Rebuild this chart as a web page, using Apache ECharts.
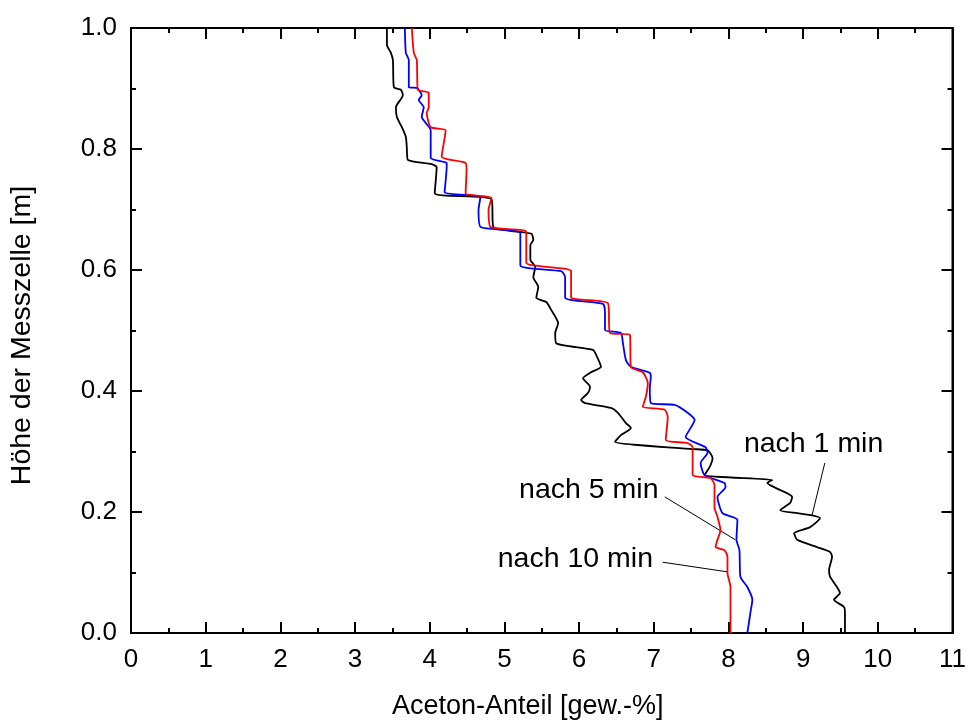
<!DOCTYPE html>
<html>
<head>
<meta charset="utf-8">
<script src="https://cdn.jsdelivr.net/npm/echarts@6/dist/echarts.min.js"></script>
<style>html,body{margin:0;padding:0;background:#fff}#c{width:969px;height:727px}</style>
</head>
<body>
<div id="c"></div>
<script>
// x: Aceton-Anteil [gew.-%], y: Höhe der Messzelle [m]
const black1min = [
[3.427,1.000],[3.427,0.972],[3.480,0.959],[3.507,0.947],[3.520,0.902],[3.613,0.898],[3.640,0.889],[3.547,0.869],
[3.560,0.853],[3.627,0.836],[3.680,0.820],[3.693,0.803],[3.707,0.782],[4.027,0.775],[4.093,0.770],[4.067,0.727],
[4.827,0.717],[4.853,0.671],[5.360,0.660],[5.387,0.650],[5.347,0.641],[5.347,0.617],[5.413,0.605],[5.387,0.588],
[5.453,0.572],[5.427,0.554],[5.560,0.547],[5.627,0.534],[5.720,0.512],[5.680,0.496],[5.693,0.479],[6.187,0.468],
[6.227,0.460],[6.293,0.440],[6.160,0.431],[6.053,0.421],[6.147,0.407],[6.120,0.397],[6.027,0.385],[6.080,0.380],
[6.427,0.372],[6.520,0.364],[6.627,0.347],[6.693,0.339],[6.560,0.327],[6.480,0.316],[7.520,0.304],[7.720,0.302],
[7.787,0.289],[7.747,0.274],[7.680,0.261],[8.587,0.253],[8.520,0.248],[8.627,0.240],[8.853,0.225],[8.827,0.215],
[8.693,0.203],[8.920,0.198],[9.093,0.195],[9.227,0.190],[9.093,0.175],[8.880,0.165],[8.920,0.154],[9.187,0.142],
[9.360,0.134],[9.387,0.126],[9.347,0.104],[9.360,0.093],[9.453,0.076],[9.493,0.066],[9.413,0.055],[9.547,0.043],
[9.560,0.033],[9.560,0.000]
];
const blue5min = [
[3.667,1.000],[3.680,0.959],[3.720,0.947],[3.720,0.902],[3.827,0.901],[3.893,0.889],[3.853,0.881],[3.920,0.869],
[3.893,0.853],[3.947,0.843],[4.013,0.831],[4.013,0.785],[4.227,0.777],[4.227,0.770],[4.200,0.729],[4.680,0.721],
[4.653,0.699],[4.680,0.671],[5.213,0.661],[5.213,0.608],[5.760,0.598],[5.813,0.588],[5.813,0.554],[6.320,0.544],
[6.347,0.529],[6.347,0.501],[6.560,0.496],[6.587,0.479],[6.627,0.451],[6.693,0.440],[6.947,0.430],[6.960,0.423],
[6.947,0.405],[6.960,0.380],[7.280,0.377],[7.453,0.364],[7.547,0.352],[7.427,0.324],[7.693,0.307],[7.720,0.298],
[7.627,0.281],[7.680,0.261],[7.947,0.248],[7.960,0.241],[7.853,0.225],[7.920,0.198],[8.120,0.187],[8.107,0.154],
[8.147,0.137],[8.160,0.093],[8.253,0.076],[8.320,0.055],[8.293,0.033],[8.253,0.000]
];
const red10min = [
[3.760,1.000],[3.787,0.959],[3.827,0.947],[3.840,0.898],[3.987,0.893],[3.987,0.869],[3.960,0.860],[4.013,0.836],
[4.213,0.831],[4.160,0.787],[4.480,0.777],[4.493,0.765],[4.480,0.727],[4.827,0.719],[4.787,0.699],[4.813,0.671],
[5.293,0.663],[5.293,0.612],[5.893,0.598],[5.893,0.555],[6.387,0.545],[6.413,0.496],[6.680,0.493],[6.693,0.440],
[6.853,0.431],[6.920,0.413],[6.893,0.390],[6.853,0.374],[7.147,0.369],[7.187,0.357],[7.160,0.319],[7.453,0.314],
[7.520,0.307],[7.520,0.261],[7.760,0.256],[7.813,0.245],[7.813,0.208],[7.853,0.192],[7.893,0.170],[7.853,0.154],
[7.827,0.142],[7.947,0.137],[7.987,0.126],[7.987,0.099],[8.027,0.076],[8.027,0.043],[8.027,0.000]
];
// annotations: text, text anchor [x,y], leader line start [x,y], end [x,y]
const annoTexts = ['nach 1 min', 'nach 5 min', 'nach 10 min'];
const annoAnchors = [[9.14,0.312],[6.13,0.236],[5.95,0.122]];
const annoLineStart = [[9.29,0.281],[7.147,0.225],[7.12,0.117]];
const annoLineEnd = [[9.12,0.195],[8.093,0.154],[7.99,0.101]];

const xTitle = 'Aceton-Anteil [gew.-%]';
const yTitle = 'Höhe der Messzelle [m]';

const FONT = '"Liberation Sans", Arial, Helvetica, sans-serif';
const chart = echarts.init(document.getElementById('c'), null, {renderer:'canvas'});

function axisBase(extra){
  return Object.assign({
    type:'value', splitLine:{show:false},
    axisLine:{show:true, onZero:false, lineStyle:{color:'#000', width:2}},
    axisTick:{show:true, inside:true, length:11, lineStyle:{color:'#000', width:2}},
    minorTick:{show:false},
    minorSplitLine:{show:false},
    axisLabel:{show:false}
  }, extra);
}
function minorAxis(extra){
  return Object.assign({
    type:'value', splitLine:{show:false},
    axisLine:{show:false, onZero:false},
    axisTick:{show:true, inside:true, length:5, lineStyle:{color:'#000', width:2}},
    axisLabel:{show:false}
  }, extra);
}

const markLineData = annoLineStart.map((s,i)=>[{coord:s},{coord:annoLineEnd[i]}]);
const markPointData = annoTexts.map((t,i)=>({coord:annoAnchors[i], value:t}));

const labelStyle = {fontFamily:FONT, fontSize:26, color:'#000'};

chart.setOption({
  animation:false,
  backgroundColor:'#fff',
  grid:{left:131, right:13, top:28, bottom:94, containLabel:false,
        show:true, borderColor:'#000', borderWidth:2, backgroundColor:'transparent'},
  xAxis:[
    axisBase({min:0, max:11, interval:1, position:'bottom',
      name:xTitle, nameLocation:'middle', nameGap:60,
      nameTextStyle:Object.assign({}, labelStyle, {fontSize:27, padding:[0,28,0,0]}),
      axisLabel:Object.assign({show:true, margin:14}, labelStyle)}),
    axisBase({min:0, max:11, interval:1, position:'top'}),
    minorAxis({min:0, max:11, interval:0.5, position:'bottom'}),
    minorAxis({min:0, max:11, interval:0.5, position:'top'})
  ],
  yAxis:[
    axisBase({min:0, max:1, interval:0.2, position:'left',
      name:yTitle, nameLocation:'middle', nameGap:94,
      nameTextStyle:Object.assign({}, labelStyle, {fontSize:28.5, padding:[0,10,0,0]}),
      axisLabel:Object.assign({show:true, margin:14, formatter:v=>v.toFixed(1)}, labelStyle)}),
    axisBase({min:0, max:1, interval:0.2, position:'right'}),
    minorAxis({min:0, max:1, interval:0.1, position:'left'}),
    minorAxis({min:0, max:1, interval:0.1, position:'right'})
  ],
  series:[
    {type:'line', name:'nach 1 min', data:black1min, showSymbol:false, symbol:'none', smooth:0.2,
      lineStyle:{color:'#000', width:1.8}, z:3},
    {type:'line', name:'nach 5 min', data:blue5min, showSymbol:false, symbol:'none', smooth:0.2,
      lineStyle:{color:'#0000ff', width:1.8}, z:4},
    {type:'line', name:'nach 10 min', data:red10min, showSymbol:false, symbol:'none', smooth:0.2,
      lineStyle:{color:'#ff0000', width:1.8}, z:5,
      markLine:{silent:true, symbol:['none','none'], label:{show:false},
        lineStyle:{color:'#000', width:1, type:'solid'}, data:markLineData},
      markPoint:{silent:true, symbol:'circle', symbolSize:0,
        label:{show:true, position:'inside', formatter:p=>p.value, fontFamily:FONT, fontSize:28.5, color:'#000'},
        data:markPointData}
    },
    // bind the frame/tick axes so they are rendered
    {type:'line', data:[], xAxisIndex:1, yAxisIndex:1, silent:true},
    {type:'line', data:[], xAxisIndex:2, yAxisIndex:2, silent:true},
    {type:'line', data:[], xAxisIndex:3, yAxisIndex:3, silent:true}
  ]
});
</script>
</body>
</html>
